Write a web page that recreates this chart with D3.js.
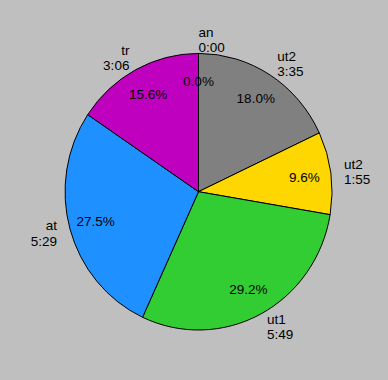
<!DOCTYPE html>
<html>
<head>
<meta charset="utf-8">
<script src="https://cdn.jsdelivr.net/npm/d3@7"></script>
<style>
  body { margin: 0; background: #bfbfbf; }
  svg { display: block; }
  text { font-family: "Liberation Sans", Arial, Helvetica, sans-serif; font-size: 13.5px; fill: #000; }
</style>
</head>
<body>
<div id="chart"></div>
<script>
const names = ['an', 'ut2', 'ut2', 'ut1', 'at', 'tr'];
const times = ['0:00', '3:35', '1:55', '5:49', '5:29', '3:06'];
// durations in seconds (labels show them truncated to whole seconds)
const seconds = [0, 215.4, 115.3, 349.6, 329.1, 186.5];
const colors = ['#bfbfbf', '#808080', '#ffd700', '#32cd32', '#1e90ff', '#bf00bf'];

const width = 388;
const height = 380;

const data = names.map((n, i) => ({ name: n, time: times[i], value: seconds[i], color: colors[i] }));
const total = d3.sum(data, d => d.value);

// pie is slightly taller than wide in the reference
const x = d3.scaleLinear().domain([-1, 1]).range([65, 332]);
const y = d3.scaleLinear().domain([-1, 1]).range([330, 53.4]);
const cx = x(0), cy = y(0);
const rx = x(1) - cx, ry = cy - y(1);

const svg = d3.select('#chart')
    .append('svg')
    .attr('width', width)
    .attr('height', height);

svg.append('rect')
    .attr('width', width)
    .attr('height', height)
    .attr('fill', '#bfbfbf');

const pie = d3.pie().sort(null).value(d => d.value);
const arcs = pie(data);
const arc = d3.arc().innerRadius(0).outerRadius(1);

svg.append('g')
    .attr('transform', `translate(${cx},${cy}) scale(${rx},${ry})`)
    .selectAll('path')
    .data(arcs.filter(d => d.value > 0))
    .enter().append('path')
    .attr('d', arc)
    .attr('fill', d => d.data.color)
    .attr('stroke', '#000')
    .attr('stroke-width', 1)
    .attr('vector-effect', 'non-scaling-stroke');

const mid = d => (d.startAngle + d.endAngle) / 2;
const lineH = 15.2;

// outer labels, name and time on two lines
const labels = svg.append('g')
    .selectAll('text')
    .data(arcs)
    .enter().append('text')
    .attr('text-anchor', d => Math.sin(mid(d)) >= 0 ? 'start' : 'end')
    .attr('transform', d => `translate(${x(Math.sin(mid(d)) * 1.1)},${y(Math.cos(mid(d)) * 1.1)})`);

labels.selectAll('tspan')
    .data(d => [d.data.name, d.data.time])
    .enter().append('tspan')
    .attr('x', 0)
    .attr('y', (t, i) => (i - 0.5) * lineH)
    .attr('dy', '0.38em')
    .text(t => t);

// percentages
svg.append('g')
    .selectAll('text')
    .data(arcs)
    .enter().append('text')
    .attr('text-anchor', 'middle')
    .attr('dy', '0.36em')
    .attr('x', d => x(Math.sin(mid(d)) * 0.8))
    .attr('y', d => y(Math.cos(mid(d)) * 0.8))
    .text(d => d3.format('.1f')(d.value / total * 100) + '%');
</script>
</body>
</html>
